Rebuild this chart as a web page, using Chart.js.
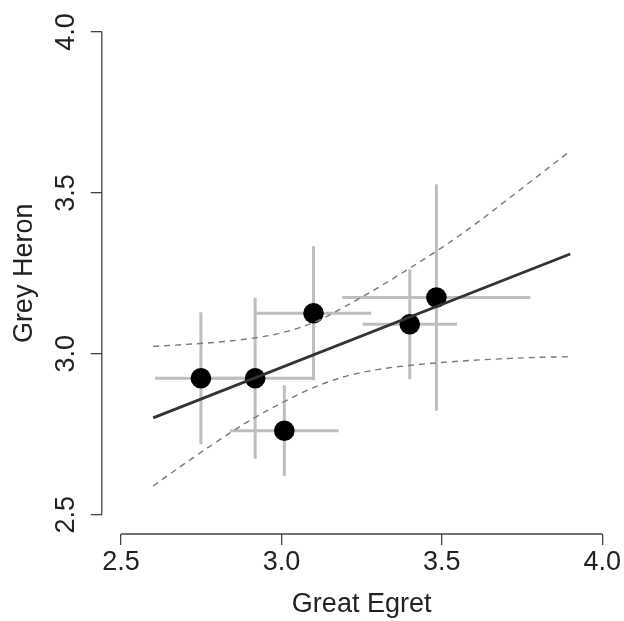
<!DOCTYPE html>
<html>
<head>
<meta charset="utf-8">
<script src="https://cdn.jsdelivr.net/npm/chart.js@4/dist/chart.umd.min.js"></script>
<style>
  html, body { margin: 0; padding: 0; background: #ffffff; }
  #wrap { width: 624px; height: 621px; }
</style>
</head>
<body>
<div id="wrap"><canvas id="c" width="624" height="621"></canvas></div>
<script>
// ---- data ----
const xTicks = [2.5, 3.0, 3.5, 4.0];
const yTicks = [2.5, 3.0, 3.5, 4.0];
const xTitle = "Great Egret";
const yTitle = "Grey Heron";

const egret    = [2.749, 2.918, 3.009, 3.100, 3.400, 3.483];
const heron    = [2.924, 2.924, 2.761, 3.126, 3.092, 3.175];
const egretErr = [0.143, 0.181, 0.169, 0.180, 0.147, 0.293];
const heronErr = [0.205, 0.250, 0.141, 0.208, 0.171, 0.352];

const fitX = [2.6, 3.9];
const fitY = [2.801, 3.310];

const bandX     = [2.6, 2.7, 2.8, 2.9, 3.0, 3.1, 3.2, 3.3, 3.4, 3.5, 3.6, 3.7, 3.8, 3.9];
const bandUpper = [3.023, 3.029, 3.036, 3.047, 3.065, 3.097, 3.148, 3.205, 3.266, 3.330, 3.400, 3.476, 3.553, 3.630];
const bandLower = [2.589, 2.660, 2.728, 2.792, 2.847, 2.895, 2.930, 2.951, 2.964, 2.973, 2.980, 2.985, 2.989, 2.991];

// ---- build datasets ----
const FONT = "'Liberation Sans', Arial, Helvetica, sans-serif";
const datasets = [];
const barStyle = { type: 'line', showLine: true, borderColor: '#bebebe', borderWidth: 3, pointRadius: 0, pointHoverRadius: 0, fill: false, order: 3, borderCapStyle: 'butt' };
for (let i = 0; i < egret.length; i++) {
  datasets.push(Object.assign({}, barStyle, { data: [{x: egret[i] - egretErr[i], y: heron[i]}, {x: egret[i] + egretErr[i], y: heron[i]}] }));
  datasets.push(Object.assign({}, barStyle, { data: [{x: egret[i], y: heron[i] - heronErr[i]}, {x: egret[i], y: heron[i] + heronErr[i]}] }));
}
datasets.push({
  type: 'scatter', data: egret.map((x, i) => ({x, y: heron[i]})),
  pointRadius: 10.3, pointHoverRadius: 10.3, pointBackgroundColor: '#000', pointBorderWidth: 0, pointBorderColor: '#000', order: 2
});
const bandStyle = { type: 'line', showLine: true, borderColor: '#7a7a7a', borderWidth: 1.4, borderDash: [6, 5], pointRadius: 0, pointHoverRadius: 0, fill: false, cubicInterpolationMode: 'monotone', order: 1 };
datasets.push(Object.assign({}, bandStyle, { data: bandX.map((x, i) => ({x, y: bandUpper[i]})) }));
datasets.push(Object.assign({}, bandStyle, { data: bandX.map((x, i) => ({x, y: bandLower[i]})) }));
datasets.push({ type: 'line', showLine: true, data: fitX.map((x, i) => ({x, y: fitY[i]})), borderColor: '#333333', borderWidth: 2.8, pointRadius: 0, pointHoverRadius: 0, fill: false, order: 0 });

const PAD = (xTicks[xTicks.length - 1] - xTicks[0]) * 0.04;
const PADY = (yTicks[yTicks.length - 1] - yTicks[0]) * 0.04;

const axisLines = {
  id: 'axisLines',
  afterDraw(chart) {
    const {ctx} = chart;
    const xs = chart.scales.x, ys = chart.scales.y;
    ctx.save();
    ctx.strokeStyle = '#444';
    ctx.lineWidth = 1.3;
    ctx.beginPath();
    ctx.moveTo(xs.getPixelForValue(xTicks[0]), xs.top);
    ctx.lineTo(xs.getPixelForValue(xTicks[xTicks.length - 1]), xs.top);
    ctx.moveTo(ys.right, ys.getPixelForValue(yTicks[0]));
    ctx.lineTo(ys.right, ys.getPixelForValue(yTicks[yTicks.length - 1]));
    ctx.stroke();
    ctx.restore();
  }
};

new Chart(document.getElementById('c'), {
  type: 'scatter',
  data: { datasets },
  plugins: [axisLines],
  options: {
    responsive: false,
    animation: false,
    devicePixelRatio: 1,
    layout: { autoPadding: false, padding: { top: 12.7, right: 2.5, left: 0, bottom: 0 } },
    plugins: { legend: { display: false }, tooltip: { enabled: false } },
    scales: {
      x: {
        type: 'linear',
        min: xTicks[0] - PAD, max: xTicks[xTicks.length - 1] + PAD,
        afterBuildTicks: (s) => { s.ticks = xTicks.map(v => ({value: v})); },
        afterFit: (s) => { s.height = 87; s.paddingLeft = 0; s.paddingRight = 0; },
        border: { display: false },
        grid: { drawOnChartArea: false, drawTicks: true, tickLength: 11, color: '#444', lineWidth: 1.3 },
        ticks: { color: '#222', padding: 1, maxRotation: 0, font: { family: FONT, size: 27 }, callback: (v) => Number(v).toFixed(1) },
        title: { display: true, text: xTitle, color: '#222', font: { family: FONT, size: 27 }, padding: { top: 0, bottom: 0 } }
      },
      y: {
        type: 'linear',
        min: yTicks[0] - PADY, max: yTicks[yTicks.length - 1] + PADY,
        afterBuildTicks: (s) => { s.ticks = yTicks.map(v => ({value: v})); },
        afterFit: (s) => { s.width = 101.8; s.paddingTop = 0; s.paddingBottom = 0; },
        border: { display: false },
        grid: { drawOnChartArea: false, drawTicks: true, tickLength: 11, color: '#444', lineWidth: 1.3 },
        ticks: { color: '#222', padding: 5.3, minRotation: 90, maxRotation: 90, crossAlign: 'center', font: { family: FONT, size: 27 }, callback: (v) => Number(v).toFixed(1) },
        title: { display: true, text: yTitle, color: '#222', font: { family: FONT, size: 27 }, padding: { top: 8, bottom: 0 } }
      }
    }
  }
});
</script>
</body>
</html>
